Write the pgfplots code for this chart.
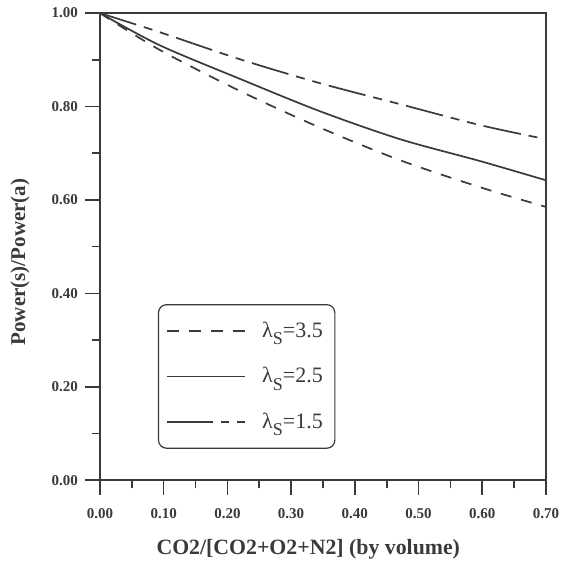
\documentclass[border=0pt]{standalone}
\usepackage{fontspec}
\setmainfont{Liberation Serif}
\usepackage{pgfplots}
\pgfplotsset{compat=1.18}
\definecolor{ink}{HTML}{3A3A3A}
\newcommand{\lams}[1]{λ\raisebox{-0.75ex}{\fontsize{9}{9}\selectfont S}=#1}
\begin{document}
\begin{tikzpicture}
\begin{axis}[
  scale only axis,
  width=223pt, height=233.5pt,
  xmin=0, xmax=0.7, ymin=0, ymax=1,
  xtick={0,0.1,0.2,0.3,0.4,0.5,0.6,0.7},
  ytick={0,0.2,0.4,0.6,0.8,1.0},
  minor x tick num=1, minor y tick num=1,
  tick align=outside, tick pos=left,
  major tick length=7.5pt, minor tick length=4pt,
  every tick/.style={ink, line width=0.8pt},
  axis line style={ink, line width=0.9pt},
  /pgf/number format/.cd, fixed, fixed zerofill, precision=2, assume math mode=true,
  /pgfplots/.cd,
  ticklabel style={font=\fontsize{7.5}{8}\selectfont\bfseries, text=ink},
  xticklabel style={yshift=-3pt},
  xlabel={CO2/[CO2+O2+N2] (by volume)},
  ylabel={Power(s)/Power(a)},
  label style={font=\fontsize{10.5}{12}\selectfont\bfseries, text=ink},
  xlabel style={at={(axis description cs:0.467,-0.148)}, anchor=center, font=\fontsize{10.9}{12}\selectfont\bfseries},
  ylabel style={at={(axis description cs:-0.179,0.467)}, anchor=center, rotate=0},
  legend style={at={(rel axis cs:0.13,0.377)}, anchor=north west, draw=ink, line width=0.6pt,
    rounded corners=4pt, inner xsep=4pt, inner ysep=6.5pt, row sep=9.5pt, column sep=6pt,
    font=\fontsize{11}{12}\selectfont, text=ink},
  legend cell align=left,
]
\addplot[ink, line width=0.85pt, smooth, dash pattern=on 19pt off 4pt on 4.5pt off 4pt on 4.5pt off 4pt,
  legend image code/.code={\draw[ink, line width=0.8pt, dash pattern=on 6pt off 5pt] (0pt,0pt) -- (39pt,0pt);}]
  coordinates {(0,1) (0.094,0.959) (0.220,0.901) (0.345,0.850) (0.471,0.805) (0.597,0.760) (0.70,0.730)};
\addlegendentry{\lams{3.5}}
\addplot[ink, line width=0.85pt, smooth, solid,
  legend image code/.code={\draw[ink, line width=0.85pt, solid] (0pt,0pt) -- (39pt,0pt);}]
  coordinates {(0,1) (0.094,0.931) (0.220,0.859) (0.345,0.790) (0.471,0.730) (0.597,0.683) (0.70,0.642)};
\addlegendentry{\lams{2.5}}
\addplot[ink, line width=0.85pt, smooth, dash pattern=on 5.5pt off 5pt,
  legend image code/.code={\draw[ink, line width=0.8pt, solid] (0pt,0pt) -- (23pt,0pt); \draw[ink, line width=0.8pt, dash pattern=on 4pt off 4pt] (27pt,0pt) -- (39pt,0pt);}]
  coordinates {(0,1) (0.094,0.921) (0.220,0.833) (0.345,0.755) (0.471,0.685) (0.597,0.627) (0.70,0.585)};
\addlegendentry{\lams{1.5}}
\coordinate (bl) at (rel axis cs:-0.224,-0.182);
\coordinate (tr) at (rel axis cs:1.056,1.028);
\end{axis}
\path[use as bounding box] (bl) rectangle (tr);
\end{tikzpicture}
\end{document}
